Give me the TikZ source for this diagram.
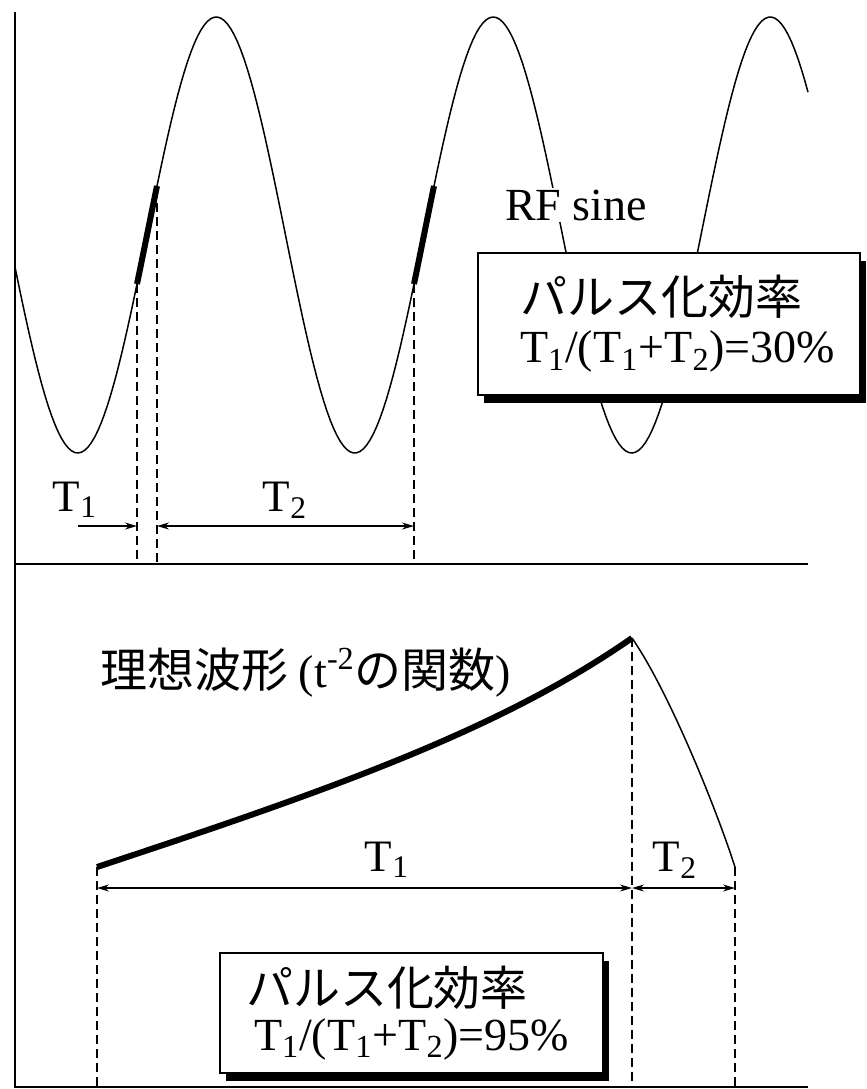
\documentclass[tikz,border=0pt]{standalone}
\usepackage{fontspec}
\setmainfont{Liberation Serif}
\newfontfamily\jpfont{Noto Sans CJK JP}
\usetikzlibrary{arrows.meta,shadows}

\begin{document}
\begin{tikzpicture}[x=0.5pt,y=-0.5pt,>={Stealth[length=6pt,width=3.5pt]},
  wave/.style={line width=0.75pt},
  pulse/.style={line width=3pt},
  guide/.style={line width=0.6pt,dash pattern=on 4.5pt off 2.5pt},
  span/.style={line width=0.6pt},
  frame/.style={line width=1pt},
  lbl/.style={font=\fontsize{22.5}{24}\selectfont,inner sep=1pt},
  effbox/.style={draw,line width=0.7pt,fill=white,align=left,
    drop shadow={shadow xshift=3pt,shadow yshift=-4pt,fill=black,opacity=1}}]
\useasboundingbox (0,0) rectangle (867,1089);
\coordinate (midL) at (15,564);
\coordinate (bot) at (15,1087);
\draw[frame] (15,12) -- (bot) -- (808,1087);
\draw[frame] (midL) -- (808,564);

% RF sine
\draw[wave] plot[domain=15:808,samples=240] (\x,{235-218*sin((\x-147)/277*360)});
\foreach \s in {137,414}
  \draw[pulse] plot[domain=\s:\s+20,samples=12] (\x,{235-218*sin((\x-147)/277*360)});
\coordinate (p1) at (137,284);
\coordinate (p2) at (157,189);
\coordinate (p3) at (414,284);
\foreach \p in {p1,p2,p3}
  \draw[guide] (\p) -- (\p |- midL);
\coordinate (t1a) at (78,526);
\draw[span,->] (t1a) -- (p1 |- t1a);
\draw[span,<->] (p2 |- t1a) -- (p3 |- t1a);
\node[lbl] (t1top) at (75,500) {T\textsubscript{1}};
\node[lbl] (t2top) at (285,500) {T\textsubscript{2}};
\node[lbl,fill=white,font=\fontsize{23}{24}\selectfont] (rf) at (576,205) {RF sine};
\node[effbox,minimum height=71pt,text width=149pt,inner xsep=21pt,
  font=\fontsize{23}{24}\selectfont] (eff1) at (669,324)
  {{\jpfont\fontsize{23.5}{24}\selectfont パルス化効率}\\
   T\textsubscript{1}/(T\textsubscript{1}+T\textsubscript{2})=30\%};

% ideal waveform
\coordinate (st) at (97,867);
\coordinate (pk) at (632,638);
\coordinate (en) at (735,867);
\draw[pulse] (st) .. controls (330,790) and (500,730) .. (pk);
\draw[wave] (pk) .. controls (668,690) and (715,805) .. (en);
\foreach \p in {st,pk,en}
  \draw[guide] (\p) -- (\p |- bot);
\coordinate (ar) at (15,888);
\draw[span,<->] (st |- ar) -- (pk |- ar);
\draw[span,<->] (pk |- ar) -- (en |- ar);
\node[lbl] (t1bot) at (387,860) {T\textsubscript{1}};
\node[lbl] (t2bot) at (675,860) {T\textsubscript{2}};
\node[anchor=west,inner sep=0pt,font=\fontsize{23}{24}\selectfont] (ideal) at (100,673)
  {{\jpfont\fontsize{23.5}{24}\selectfont 理想波形 }(t\textsuperscript{-2}{\jpfont\fontsize{23.5}{24}\selectfont の関数})};
\node[effbox,minimum height=60pt,text width=165.5pt,inner xsep=13pt,
  font=\fontsize{23}{22.5}\selectfont] (eff2) at (411.5,1013)
  {{\jpfont\fontsize{23.5}{22.5}\selectfont パルス化効率}\\
   \hspace*{4pt}T\textsubscript{1}/(T\textsubscript{1}+T\textsubscript{2})=95\%};
\end{tikzpicture}
\end{document}
